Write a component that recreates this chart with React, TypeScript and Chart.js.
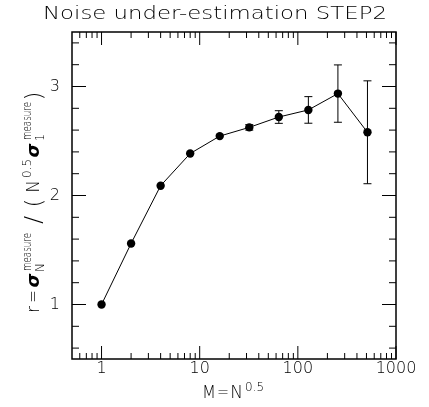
import React, { useEffect, useRef } from "react";
import { Chart, registerables } from "chart.js";
Chart.register(...registerables);

// ---- data ----
const xVals = [1, 2, 4, 8, 16, 32, 64, 128, 256, 512];
const rVals = [1.0, 1.56, 2.09, 2.385, 2.545, 2.625, 2.72, 2.785, 2.935, 2.58];
const errVals = [0, 0, 0, 0, 0, 0.025, 0.058, 0.122, 0.263, 0.472];
const xTickVals = [1, 10, 100, 1000];
const yTickVals = [1, 2, 3];
const yMinorVals = [0.6, 0.8, 1.2, 1.4, 1.6, 1.8, 2.2, 2.4, 2.6, 2.8, 3.2, 3.4];
const xMinorVals = [0.6, 0.7, 0.8, 0.9, 2, 3, 4, 5, 6, 7, 8, 9, 20, 30, 40, 50, 60, 70, 80, 90, 200, 300, 400, 500, 600, 700, 800, 900];
const titleText = "Noise under-estimation STEP2";

const FAM = '"DejaVu Sans", "Liberation Sans", sans-serif';
const W = "200";
const MAIN = `${W} 17px ${FAM}`;
const BIG = `${W} 23px ${FAM}`;
const SMALL = `${W} 12.5px ${FAM}`;
const SIG = `bold italic 18px "DejaVu Sans", sans-serif`;

// text piece: t text, f font, dy baseline shift, at start offset along the text, w slot length
type Piece = { t: string; f: string; dy: number; at: number; w: number };

function drawPieces(ctx: CanvasRenderingContext2D, pieces: Piece[]) {
  for (const p of pieces) {
    ctx.font = p.f;
    const nat = ctx.measureText(p.t).width || 1;
    ctx.save();
    if (nat > p.w) {
      ctx.translate(p.at, p.dy);
      ctx.scale(p.w / nat, 1);
    } else {
      ctx.translate(p.at + (p.w - nat) / 2, p.dy);
    }
    ctx.fillText(p.t, 0, 0);
    ctx.restore();
  }
}

function drawFit(ctx: CanvasRenderingContext2D, t: string, f: string, w: number) {
  ctx.font = f;
  const nat = ctx.measureText(t).width || 1;
  ctx.save();
  ctx.scale(w / nat, 1);
  ctx.fillText(t, 0, 0);
  ctx.restore();
}

const decor = {
  id: "decor",
  beforeDatasetsDraw(chart: any) {
    const { ctx, scales } = chart;
    const x = scales.x, y = scales.y;
    ctx.save();
    ctx.strokeStyle = "#000";
    ctx.lineWidth = 1;
    for (let i = 0; i < xVals.length; i++) {
      if (!errVals[i]) continue;
      const px = x.getPixelForValue(xVals[i]);
      const y1 = y.getPixelForValue(rVals[i] - errVals[i]);
      const y2 = y.getPixelForValue(rVals[i] + errVals[i]);
      ctx.beginPath();
      ctx.moveTo(px, y1); ctx.lineTo(px, y2);
      ctx.moveTo(px - 4, y1); ctx.lineTo(px + 4, y1);
      ctx.moveTo(px - 4, y2); ctx.lineTo(px + 4, y2);
      ctx.stroke();
    }
    ctx.restore();
  },
  afterDraw(chart: any) {
    const { ctx, chartArea: a, scales } = chart;
    const x = scales.x, y = scales.y;
    ctx.save();
    ctx.strokeStyle = "#000";
    ctx.lineWidth = 1.5;
    ctx.strokeRect(a.left, a.top, a.right - a.left, a.bottom - a.top);
    ctx.lineWidth = 1;
    ctx.beginPath();
    const xt = (v: number, len: number) => {
      const px = x.getPixelForValue(v);
      ctx.moveTo(px, a.bottom); ctx.lineTo(px, a.bottom - len);
      ctx.moveTo(px, a.top); ctx.lineTo(px, a.top + len);
    };
    const yt = (v: number, len: number) => {
      const py = y.getPixelForValue(v);
      ctx.moveTo(a.left, py); ctx.lineTo(a.left + len, py);
      ctx.moveTo(a.right, py); ctx.lineTo(a.right - len, py);
    };
    xTickVals.forEach((v) => xt(v, 13));
    xMinorVals.forEach((v) => xt(v, 6));
    yTickVals.forEach((v) => yt(v, 14));
    yMinorVals.forEach((v) => yt(v, 7));
    ctx.stroke();

    ctx.fillStyle = "#000";
    ctx.textBaseline = "alphabetic";
    ctx.textAlign = "left";

    // title
    ctx.save();
    ctx.translate(43, 19);
    drawFit(ctx, titleText, `${W} 18px ${FAM}`, 344);
    ctx.restore();

    // x label  "M=N^0.5"
    ctx.save();
    ctx.translate(202, 398);
    drawPieces(ctx, [
      { t: "M", f: MAIN, dy: 0, at: 0, w: 14 },
      { t: "=", f: MAIN, dy: 0, at: 15, w: 12 },
      { t: "N", f: MAIN, dy: 0, at: 28, w: 13 },
      { t: "0.5", f: SMALL, dy: -7, at: 43, w: 19 },
    ]);
    ctx.restore();

    // y label  r = σ_N^measure / (N^0.5 σ_1^measure)
    ctx.save();
    ctx.translate(39, 313);
    ctx.rotate(-Math.PI / 2);
    drawPieces(ctx, [
      { t: "r", f: MAIN, dy: 0, at: 0, w: 7 },
      { t: "=", f: MAIN, dy: 0, at: 10, w: 13 },
      { t: "σ", f: SIG, dy: 0, at: 25, w: 15 },
      { t: "N", f: SMALL, dy: 5, at: 41, w: 9 },
      { t: "measure", f: SMALL, dy: -8, at: 42, w: 38 },
      { t: "/", f: BIG, dy: 2, at: 84, w: 18 },
      { t: "(", f: BIG, dy: 3, at: 104, w: 12 },
      { t: "N", f: MAIN, dy: 0, at: 119, w: 15 },
      { t: "0.5", f: SMALL, dy: -8, at: 135, w: 19 },
      { t: "σ", f: SIG, dy: 0, at: 155, w: 15 },
      { t: "1", f: SMALL, dy: 5, at: 172, w: 7 },
      { t: "measure", f: SMALL, dy: -8, at: 173, w: 38 },
      { t: ")", f: BIG, dy: 3, at: 211, w: 12 },
    ]);
    ctx.restore();
    ctx.restore();
  },
};

export default function App() {
  const ref = useRef<HTMLCanvasElement | null>(null);
  useEffect(() => {
    if (!ref.current) return;
    const chart = new Chart(ref.current, {
      type: "line",
      data: {
        datasets: [
          {
            data: xVals.map((v, i) => ({ x: v, y: rVals[i] })),
            borderColor: "#000",
            borderWidth: 1,
            pointRadius: 4.2,
            pointBackgroundColor: "#000",
            pointBorderWidth: 0,
            tension: 0,
            clip: false as any,
          },
        ],
      },
      options: {
        animation: false,
        responsive: false,
        devicePixelRatio: 1,
        layout: { padding: { left: 0, right: 33, top: 32, bottom: 0 } },
        plugins: { legend: { display: false }, title: { display: false }, tooltip: { enabled: false } },
        scales: {
          x: {
            type: "logarithmic",
            min: 0.5,
            max: 1000,
            grid: { display: false, drawTicks: false },
            border: { display: false },
            afterBuildTicks: (s: any) => { s.ticks = xTickVals.map((v) => ({ value: v })); },
            afterFit: (s: any) => { s.height = 48; },
            ticks: {
              autoSkip: false, maxRotation: 0, minRotation: 0, padding: 0,
              color: "#000", font: { family: FAM, size: 16, weight: W },
              callback: (v: any) => String(v),
            },
          },
          y: {
            type: "linear",
            min: 0.5,
            max: 3.5,
            grid: { display: false, drawTicks: false },
            border: { display: false },
            afterBuildTicks: (s: any) => { s.ticks = yTickVals.map((v) => ({ value: v })); },
            afterFit: (s: any) => { s.width = 72; },
            ticks: {
              padding: 12, color: "#000", font: { family: FAM, size: 16, weight: W },
              callback: (v: any) => String(v),
            },
          },
        },
      } as any,
      plugins: [decor],
    });
    return () => chart.destroy();
  }, []);
  return (
    <div style={{ position: "fixed", left: 0, top: 0, width: 429, height: 407, background: "#fff" }}>
      <canvas ref={ref} width={429} height={407} />
    </div>
  );
}
